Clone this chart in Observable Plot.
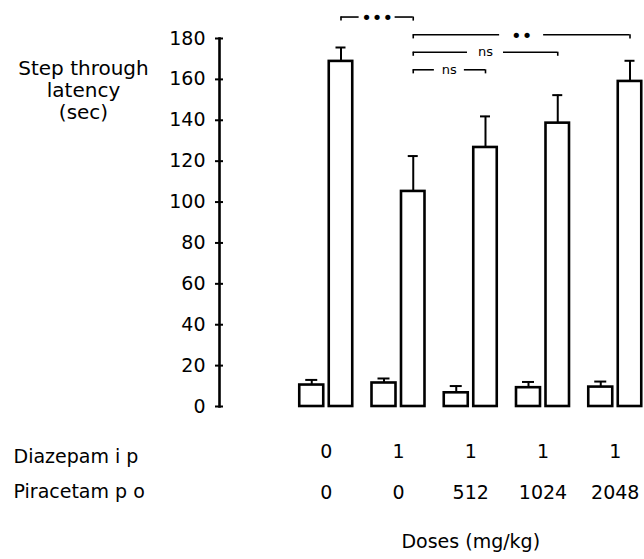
<!DOCTYPE html>
<html><head><meta charset="utf-8">
<script src="https://cdn.jsdelivr.net/npm/d3@7"></script>
<script src="https://cdn.jsdelivr.net/npm/@observablehq/plot@0.6"></script>
<style>
html,body{margin:0;padding:0;background:#fff;}
#chart svg{display:block;}
</style>
</head><body><div id="chart"></div>
<script>
// ---- data ----
const groups = ["g1", "g2", "g3", "g4", "g5"];
const diazepamDose = ["0", "1", "1", "1", "1"];
const piracetamDose = ["0", "0", "512", "1024", "2048"];
const trainMean = [10.5, 11.5, 6.7, 9.2, 9.5];
const trainSem = [2.5, 2.2, 3.3, 2.8, 2.7];
const testMean = [168.8, 105.2, 126.7, 138.6, 159.0];
const testSem = [6.8, 17.3, 15.2, 13.7, 10.1];
const yTicks = [0, 20, 40, 60, 80, 100, 120, 140, 160, 180];
const bracketFrom = ["g1", "g2", "g2", "g2"];
const bracketTo = ["g2", "g5", "g4", "g3"];
const bracketLabel = ["\u2022\u2022\u2022", "\u2022\u2022", "ns", "ns"];
const bracketLevel = [190.5, 181.8, 173.3, 164.7];
const yLabel = "Step through\nlatency\n(sec)";
const row1Label = "Diazepam i p";
const row2Label = "Piracetam p o";
const xTitle = "Doses (mg/kg)";

// ---- layout ----
const W = 644, H = 559;
const mL = 219, mR = 1.75, mT = 38, mB = 153;
const padIn = 0.2388, padOut = 0.5484;
const STEP = (W - mR - mL) / (groups.length - padIn + 2 * padOut);
const BW = STEP * (1 - padIn);
const FONT = 19;

const train = groups.map((g, i) => ({group: g, mean: trainMean[i], sem: trainSem[i]}));
const test = groups.map((g, i) => ({group: g, mean: testMean[i], sem: testSem[i]}));
const brackets = bracketFrom.map((f, i) => ({from: f, to: bracketTo[i], label: bracketLabel[i], level: bracketLevel[i]}));

const smallInL = 1, smallInR = 30;
const tallInL = 30.5, tallInR = 1;
const smallC = smallInL + (BW - smallInL - smallInR) / 2;  // from band start
const tallC = tallInL + (BW - tallInL - tallInR) / 2;
const capS = 6, capT = 5;
const gapHalf = {"\u2022\u2022\u2022": 18, "\u2022\u2022": 22, "ns": 15};

const bracketMarks = brackets.flatMap((b) => {
  const span = groups.indexOf(b.to) - groups.indexOf(b.from);
  const isNs = b.label === "ns";
  const mid = tallC + span * STEP / 2;        // label centre, from band start of "from"
  const full = span * STEP + BW;              // band start of "from" to band end of "to"
  const g = gapHalf[b.label] + (b.label === "ns" && span === 2 ? 3 : 0);
  return [
    Plot.ruleY([b], {x1: "from", x2: "to", y: "level", insetLeft: tallC, insetRight: full - (mid - g), strokeWidth: 1.6}),
    Plot.ruleY([b], {x1: "from", x2: "to", y: "level", insetLeft: mid + g, insetRight: BW - tallC, strokeWidth: 1.6}),
    Plot.ruleX([b.from, b.to], {x: (d) => d, y1: () => b.level, y2: () => b.level - 2, dx: tallC - BW / 2, strokeWidth: 1.6}),
    Plot.text([b], {x: "from", y: "level", text: "label", dx: mid - BW / 2, dy: isNs ? 0 : 1,
      fontSize: isNs ? 13 : 18, fill: "black", lineAnchor: "middle"})
  ];
});

const chart = Plot.plot({
  width: W, height: H,
  marginLeft: mL, marginRight: mR, marginTop: mT, marginBottom: mB,
  style: {fontFamily: "DejaVu Sans", fontSize: FONT + "px", background: "white", color: "black"},
  x: {domain: groups, paddingInner: padIn, paddingOuter: padOut, align: 1, round: false, axis: null},
  y: {domain: [0, 180], label: null},
  marks: [
    Plot.frame({anchor: "left", strokeWidth: 2.6}),
    Plot.axisY({ticks: yTicks, tickSize: 8, dx: 4, fill: "none", strokeWidth: 2, label: null}),
    Plot.axisY({ticks: yTicks, tickSize: 0, tickPadding: 14, fontSize: FONT, stroke: "none", label: null}),
    Plot.barY(train, {x: "group", y: "mean", fill: "white", stroke: "black", strokeWidth: 2.6, insetLeft: smallInL, insetRight: smallInR}),
    Plot.barY(test, {x: "group", y: "mean", fill: "white", stroke: "black", strokeWidth: 2.6, insetLeft: tallInL, insetRight: tallInR}),
    Plot.ruleX(train, {x: "group", y1: "mean", y2: (d) => d.mean + d.sem, dx: smallC - BW / 2, strokeWidth: 2}),
    Plot.tickY(train, {x: "group", y: (d) => d.mean + d.sem, insetLeft: smallC - capS, insetRight: BW - smallC - capS, strokeWidth: 2}),
    Plot.ruleX(test, {x: "group", y1: "mean", y2: (d) => d.mean + d.sem, dx: tallC - BW / 2, strokeWidth: 2}),
    Plot.tickY(test, {x: "group", y: (d) => d.mean + d.sem, insetLeft: tallC - capT, insetRight: BW - tallC - capT, strokeWidth: 2}),
    ...bracketMarks,
    Plot.text([yLabel], {frameAnchor: "top-left", dx: -136, dy: 20.5, lineAnchor: "top", textAnchor: "middle", lineHeight: 1.1, fontSize: 20}),
    Plot.text([row1Label], {frameAnchor: "bottom-left", dx: -206, dy: 50.5, textAnchor: "start", lineAnchor: "middle", fontSize: 19}),
    Plot.text([row2Label], {frameAnchor: "bottom-left", dx: -206, dy: 85.5, textAnchor: "start", lineAnchor: "middle", fontSize: 19}),
    Plot.text(groups, {x: (d) => d, text: (d, i) => diazepamDose[i], frameAnchor: "bottom", dy: 45, lineAnchor: "middle", fontSize: 19}),
    Plot.text(groups, {x: (d) => d, text: (d, i) => piracetamDose[i], frameAnchor: "bottom", dy: 86.5, lineAnchor: "middle", fontSize: 19}),
    Plot.text([groups[2]], {x: (d) => d, text: () => xTitle, frameAnchor: "bottom", dy: 135.5, lineAnchor: "middle", fontSize: 19})
  ]
});
document.getElementById("chart").appendChild(chart);
</script>
</body></html>
